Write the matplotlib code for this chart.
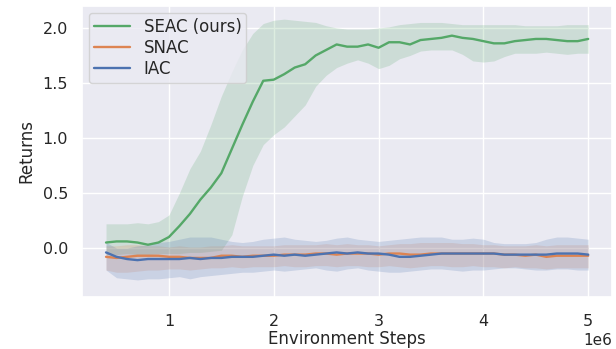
import matplotlib
matplotlib.use("Agg")
import matplotlib.pyplot as plt
import seaborn as sns
import numpy as np

steps = [0.4, 0.5, 0.6, 0.7, 0.8, 0.9, 1.0, 1.1, 1.2, 1.3, 1.4, 1.5, 1.6, 1.7, 1.8, 1.9,
         2.0, 2.1, 2.2, 2.3, 2.4, 2.5, 2.6, 2.7, 2.8, 2.9, 3.0, 3.1, 3.2, 3.3, 3.4, 3.5,
         3.6, 3.7, 3.8, 3.9, 4.0, 4.1, 4.2, 4.3, 4.4, 4.5, 4.6, 4.7, 4.8, 4.9, 5.0]

seac_mean = [0.05, 0.06, 0.06, 0.05, 0.03, 0.05, 0.10, 0.20, 0.31, 0.44, 0.55, 0.68, 0.90, 1.12, 1.33, 1.52,
             1.53, 1.58, 1.64, 1.67, 1.75, 1.80, 1.85, 1.83, 1.83, 1.85, 1.82, 1.87, 1.87, 1.85, 1.89, 1.90,
             1.91, 1.93, 1.91, 1.90, 1.88, 1.86, 1.86, 1.88, 1.89, 1.90, 1.90, 1.89, 1.88, 1.88, 1.90]
seac_low = [-0.06, -0.06, -0.05, -0.06, -0.06, -0.05, -0.05, -0.05, -0.04, -0.04, -0.03, -0.02, 0.12, 0.47, 0.75, 0.94,
            1.03, 1.10, 1.20, 1.30, 1.47, 1.57, 1.64, 1.68, 1.71, 1.68, 1.63, 1.66, 1.72, 1.75, 1.79, 1.80,
            1.80, 1.80, 1.76, 1.70, 1.69, 1.70, 1.74, 1.77, 1.77, 1.77, 1.78, 1.77, 1.76, 1.77, 1.77]
seac_high = [0.22, 0.22, 0.22, 0.23, 0.22, 0.24, 0.30, 0.50, 0.72, 0.88, 1.12, 1.38, 1.60, 1.80, 1.95, 2.04,
             2.07, 2.08, 2.07, 2.06, 2.05, 2.02, 2.00, 1.99, 1.99, 1.99, 2.00, 2.01, 2.03, 2.04, 2.05, 2.05,
             2.05, 2.04, 2.03, 2.03, 2.03, 2.03, 2.03, 2.03, 2.02, 2.02, 2.02, 2.02, 2.03, 2.03, 2.03]

snac_mean = [-0.08, -0.09, -0.08, -0.07, -0.07, -0.07, -0.08, -0.08, -0.09, -0.09, -0.09, -0.07, -0.07, -0.08, -0.07, -0.07,
             -0.07, -0.06, -0.06, -0.06, -0.05, -0.05, -0.06, -0.05, -0.05, -0.05, -0.06, -0.05, -0.05, -0.06, -0.06, -0.05,
             -0.05, -0.05, -0.05, -0.05, -0.05, -0.05, -0.06, -0.06, -0.07, -0.06, -0.08, -0.07, -0.07, -0.07, -0.07]
snac_low = [-0.20, -0.22, -0.22, -0.21, -0.20, -0.20, -0.19, -0.19, -0.20, -0.19, -0.18, -0.18, -0.17, -0.18, -0.17, -0.17,
            -0.17, -0.16, -0.17, -0.17, -0.16, -0.16, -0.17, -0.16, -0.16, -0.17, -0.17, -0.16, -0.17, -0.18, -0.17, -0.16,
            -0.16, -0.17, -0.17, -0.16, -0.17, -0.17, -0.18, -0.17, -0.18, -0.18, -0.19, -0.18, -0.18, -0.18, -0.18]
snac_high = [0.02, 0.02, 0.03, 0.03, 0.02, 0.02, 0.01, 0.02, 0.01, 0.01, 0.02, 0.02, 0.03, 0.02, 0.02, 0.02,
             0.02, 0.03, 0.03, 0.03, 0.03, 0.04, 0.03, 0.04, 0.03, 0.03, 0.02, 0.03, 0.04, 0.04, 0.05, 0.05,
             0.05, 0.05, 0.04, 0.04, 0.03, 0.03, 0.02, 0.02, 0.02, 0.03, 0.02, 0.03, 0.03, 0.03, 0.03]

iac_mean = [-0.04, -0.08, -0.10, -0.11, -0.10, -0.10, -0.10, -0.10, -0.09, -0.10, -0.09, -0.09, -0.08, -0.08, -0.08, -0.07,
            -0.06, -0.07, -0.06, -0.07, -0.06, -0.05, -0.04, -0.05, -0.04, -0.05, -0.05, -0.06, -0.08, -0.08, -0.07, -0.06,
            -0.05, -0.05, -0.05, -0.05, -0.05, -0.05, -0.06, -0.06, -0.06, -0.06, -0.06, -0.05, -0.05, -0.05, -0.06]
iac_low = [-0.20, -0.27, -0.28, -0.29, -0.28, -0.28, -0.27, -0.26, -0.28, -0.26, -0.25, -0.24, -0.23, -0.22, -0.22, -0.21,
           -0.20, -0.21, -0.20, -0.19, -0.18, -0.20, -0.21, -0.19, -0.18, -0.20, -0.21, -0.22, -0.22, -0.21, -0.20, -0.19,
           -0.19, -0.20, -0.21, -0.20, -0.20, -0.19, -0.18, -0.18, -0.19, -0.20, -0.20, -0.19, -0.19, -0.20, -0.20]
iac_high = [0.05, 0.00, 0.00, 0.02, 0.03, 0.05, 0.06, 0.08, 0.10, 0.10, 0.10, 0.08, 0.06, 0.05, 0.06, 0.08,
            0.09, 0.10, 0.08, 0.07, 0.06, 0.07, 0.09, 0.10, 0.08, 0.07, 0.06, 0.07, 0.08, 0.09, 0.10, 0.10,
            0.10, 0.08, 0.08, 0.09, 0.08, 0.05, 0.04, 0.04, 0.04, 0.05, 0.08, 0.10, 0.10, 0.09, 0.08]

sns.set_theme(style="darkgrid")
x = np.array(steps) * 1e6

fig, ax = plt.subplots(figsize=(6.16, 3.49), dpi=100)
fig.subplots_adjust(left=0.133, right=0.994, bottom=0.149, top=0.983)

runs = [("SEAC (ours)", "#55a868", seac_mean, seac_low, seac_high),
        ("SNAC", "#dd8452", snac_mean, snac_low, snac_high),
        ("IAC", "#4c72b0", iac_mean, iac_low, iac_high)]
for name, col, m, lo, hi in runs:
    ax.fill_between(x, lo, hi, color=col, alpha=0.2, linewidth=0)
for name, col, m, lo, hi in runs:
    ax.plot(x, m, color=col, lw=1.7, label=name)

ax.set_ylim(-0.445, 2.2)
ax.set_xlabel("Environment Steps", fontsize=12, labelpad=1)
ax.set_ylabel("Returns", fontsize=12, labelpad=5)
ax.tick_params(axis="x", labelsize=11.5, pad=6)
ax.tick_params(axis="y", labelsize=11.5, pad=4)
ax.xaxis.get_offset_text().set_fontsize(11)
ax.legend(loc="upper left", fontsize=12, borderaxespad=0.4, handlelength=2.2,
          labelspacing=0.2, borderpad=0.3)

fig.savefig("out.png", dpi=100)
